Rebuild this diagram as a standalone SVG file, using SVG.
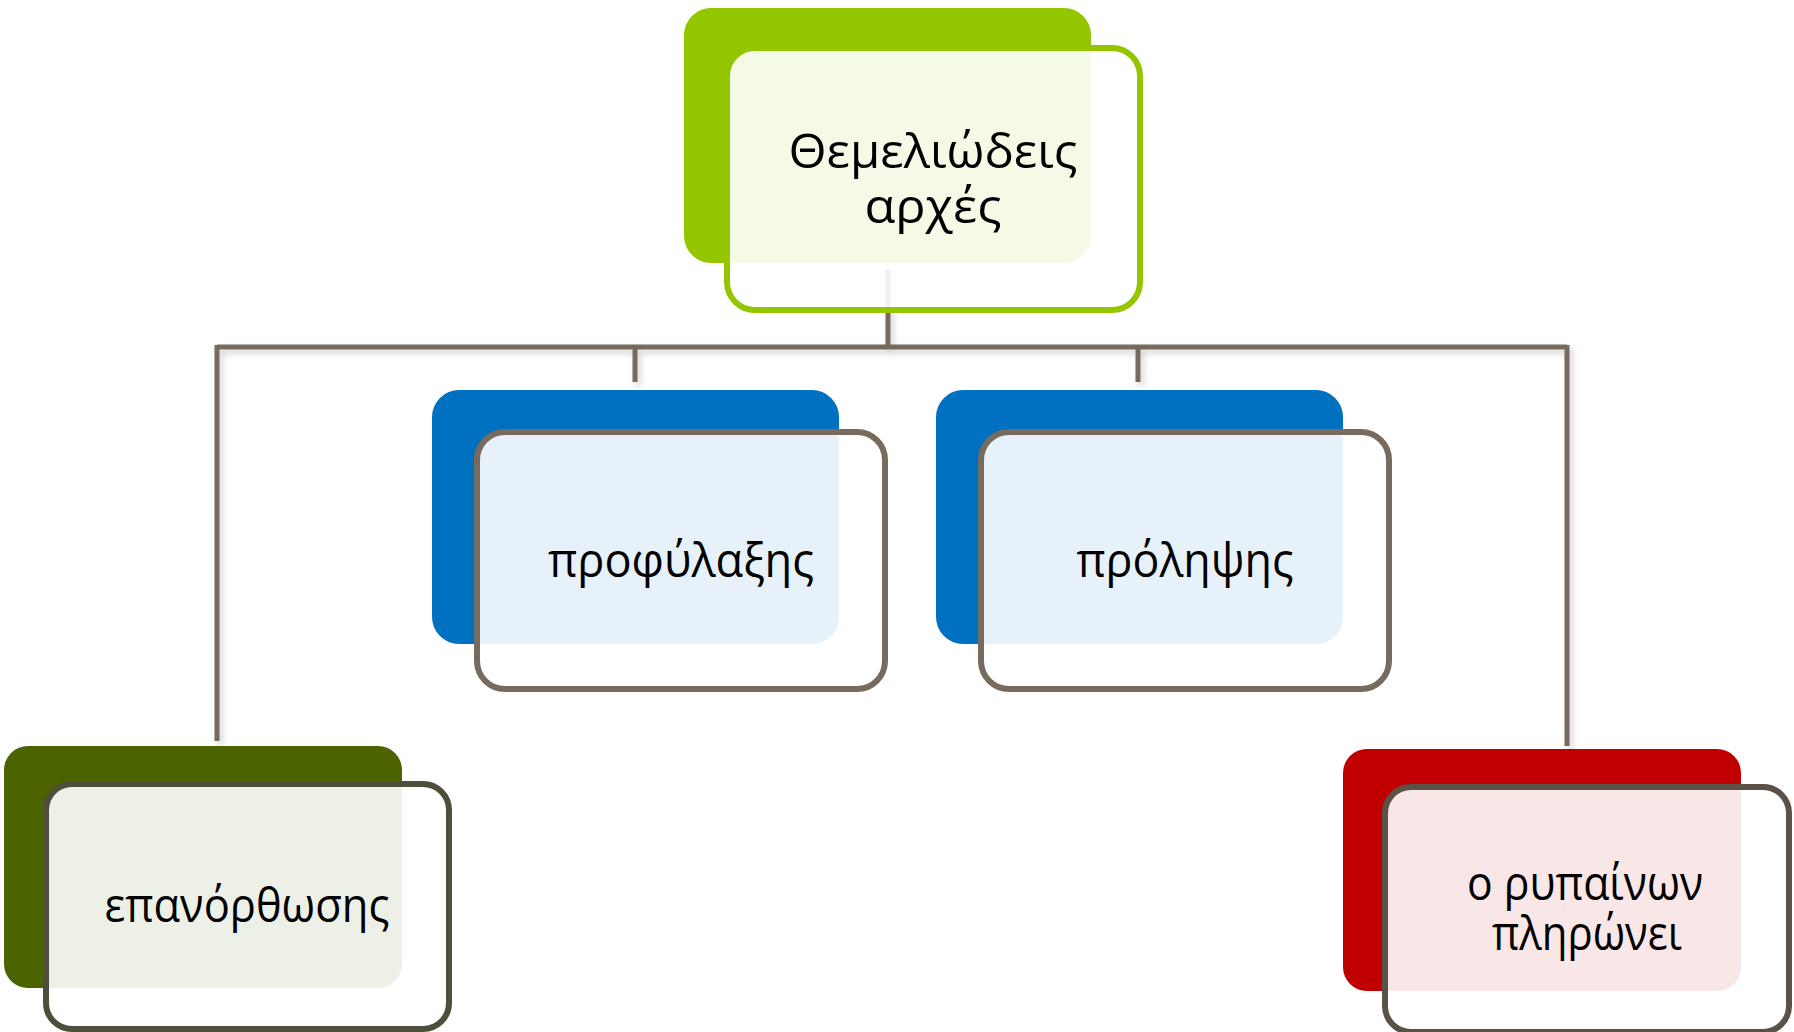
<svg xmlns="http://www.w3.org/2000/svg" width="1794" height="1032" viewBox="0 0 1794 1032">
<defs>
<filter id="sh" x="-5%" y="-5%" width="110%" height="120%">
<feDropShadow dx="3" dy="4" stdDeviation="3" flood-color="#000" flood-opacity="0.18"/>
</filter>
</defs>
<style>
.bg{stroke:none}
.fr{fill:#fff;fill-opacity:0.9;stroke-width:6}
.conn{fill:none;stroke:#776B5D;stroke-width:5}
.t{font-family:"Open Sans","Noto Sans","DejaVu Sans",sans-serif;font-size:48px;fill:#000;text-anchor:middle}
</style>
<rect width="1794" height="1032" fill="#fff"/>
<g id="connectors" filter="url(#sh)">
<path class="conn" d="M888 269V347"/>
<path class="conn" d="M217 347H1567"/>
<path class="conn" d="M217 345V741"/>
<path class="conn" d="M1567 345V746"/>
<path class="conn" d="M635 347V382"/>
<path class="conn" d="M1138 347V382"/>
</g>
<g id="node-root">
<rect class="bg" x="684" y="8" width="407" height="255" rx="27" fill="#94C600"/>
<rect class="fr" x="727" y="48" width="413" height="262" rx="28" stroke="#94C600"/>
<text class="t" x="933" y="168" textLength="289" lengthAdjust="spacingAndGlyphs">Θεμελιώδεις</text>
<text class="t" x="933" y="223" textLength="137" lengthAdjust="spacingAndGlyphs">αρχές</text>
</g>
<g id="node-profylaxis">
<rect class="bg" x="432" y="390" width="407" height="254" rx="27" fill="#0070C0"/>
<rect class="fr" x="477" y="432" width="408" height="257" rx="28" stroke="#776B5D"/>
<text class="t" x="681" y="577" textLength="266" lengthAdjust="spacingAndGlyphs">προφύλαξης</text>
</g>
<g id="node-prolipsis">
<rect class="bg" x="936" y="390" width="407" height="254" rx="27" fill="#0070C0"/>
<rect class="fr" x="981" y="432" width="408" height="257" rx="28" stroke="#776B5D"/>
<text class="t" x="1185" y="577" textLength="217" lengthAdjust="spacingAndGlyphs">πρόληψης</text>
</g>
<g id="node-epanorthosis">
<rect class="bg" x="4" y="746" width="398" height="242" rx="24" fill="#4B6300"/>
<rect class="fr" x="46" y="784" width="403" height="245" rx="26" stroke="#4F4E3A"/>
<text class="t" x="247" y="922" textLength="285" lengthAdjust="spacingAndGlyphs">επανόρθωσης</text>
</g>
<g id="node-polluter">
<rect class="bg" x="1343" y="749" width="398" height="242" rx="24" fill="#C00000"/>
<rect class="fr" x="1385" y="787" width="404" height="245" rx="26" stroke="#5B5247"/>
<text class="t" x="1585" y="900" textLength="236" lengthAdjust="spacingAndGlyphs">ο ρυπαίνων</text>
<text class="t" x="1587" y="950" textLength="190" lengthAdjust="spacingAndGlyphs">πληρώνει</text>
</g>
</svg>
